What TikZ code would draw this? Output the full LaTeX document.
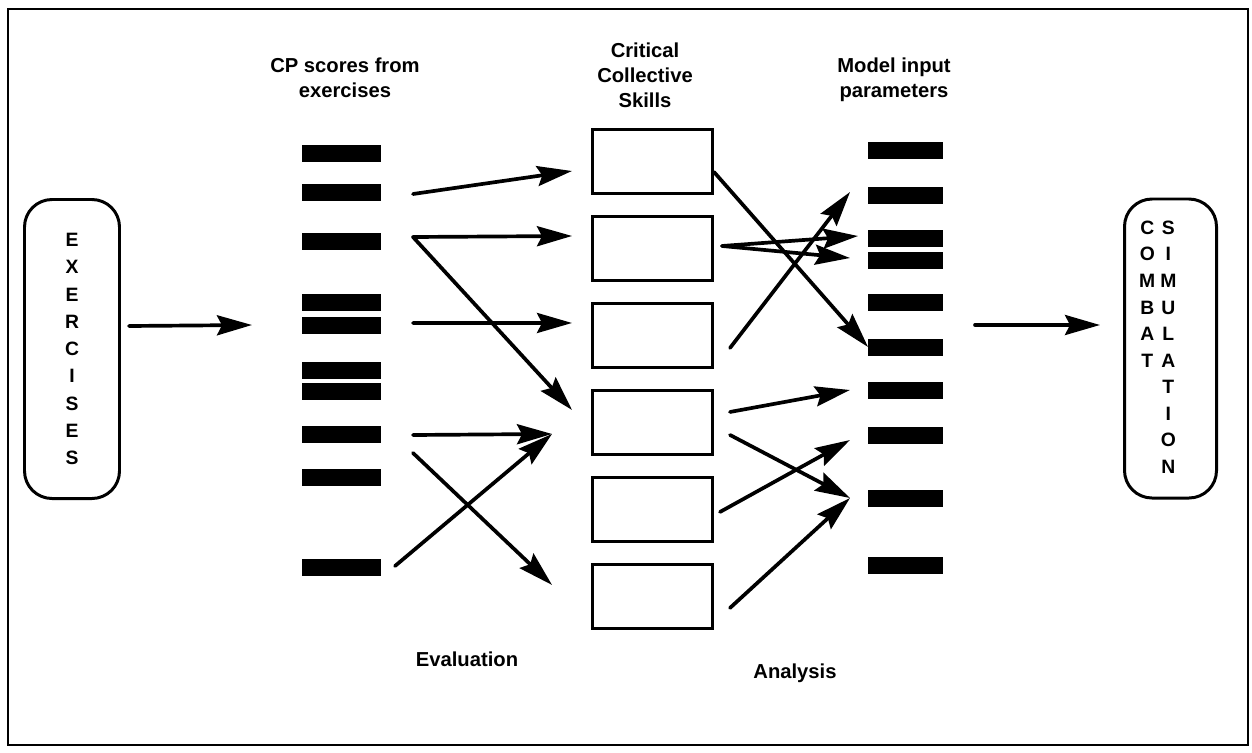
\documentclass[tikz,border=0pt]{standalone}
\usepackage{fontspec}
\setmainfont{Liberation Sans}
\usetikzlibrary{arrows.meta, positioning, calc}

\begin{document}
\begin{tikzpicture}[
        barra/.style={
            rectangle,
            fill=black,
            minimum width=#1,
            minimum height=0.34cm,
            inner sep=0pt,
            outer sep=0pt
        },
        habilidad/.style={
            rectangle,
            draw=black,
            line width=1.7pt,
            minimum width=2.40cm,
            minimum height=1.28cm,
            inner sep=0pt
        },
        extremo/.style={
            rectangle,
            rounded corners=0.55cm,
            draw=black,
            line width=1.7pt,
            minimum width=1.90cm,
            minimum height=5.98cm,
            align=center,
            inner sep=0pt
        },
        rotulo/.style={
            align=center,
            font=\fontsize{11.5}{14.3}\selectfont\bfseries,
            inner sep=0pt
        },
        flecha/.style={-{Stealth[length=7mm, width=4mm, inset=1mm]}, line width=2.1pt, line cap=round}
    ]
        \useasboundingbox (0,0) rectangle (25.04,-15.04);
        \draw[line width=1.2pt] (0.16,-0.18) rectangle (24.96,-14.90);

        \node[extremo, font=\fontsize{11}{15.5}\selectfont\bfseries] (ejercicios) at (1.44,-6.98) {
            E\\X\\E\\R\\C\\I\\S\\E\\S
        };

        \node[extremo, minimum width=1.84cm, font=\fontsize{11}{15.1}\selectfont\bfseries] (combate) at (23.41,-6.97) {
            \begin{tabular}{@{}c@{\hspace{0.10cm}}c@{\hspace{0.40cm}}}
                C&S\\ O&I\\ M&M\\ B&U\\ A&L\\ T&A\\ &T\\ &I\\ &O\\ &N
            \end{tabular}
        };

        \node[rotulo] (tcp) at (6.90,-1.56) {CP scores from\\exercises};
        \node[rotulo] (thab) at (12.90,-1.51) {Critical\\Collective\\Skills};
        \node[rotulo] (tpar) at (17.88,-1.60) {Model input\\parameters};
        \node[rotulo] (teval) at (9.34,-13.19) {Evaluation};
        \node[rotulo] (tanal) at (15.90,-13.46) {Analysis};

        \node[barra=1.58cm] (cp1) at (6.83,-3.06) {};
        \node[barra=1.58cm, below=0.44cm of cp1] (cp2) {};
        \node[barra=1.58cm, below=0.64cm of cp2] (cp3) {};
        \node[barra=1.58cm, below=0.88cm of cp3] (cp4) {};
        \node[barra=1.58cm, below=0.12cm of cp4] (cp5) {};
        \node[barra=1.58cm, below=0.56cm of cp5] (cp6) {};
        \node[barra=1.58cm, below=0.08cm of cp6] (cp7) {};
        \node[barra=1.58cm, below=0.52cm of cp7] (cp8) {};
        \node[barra=1.58cm, below=0.52cm of cp8] (cp9) {};
        \node[barra=1.58cm, below=1.46cm of cp9] (cp10) {};

        \node[habilidad] (hab1) at (13.05,-3.23) {};
        \node[habilidad, below=0.40cm of hab1] (hab2) {};
        \node[habilidad, below=0.40cm of hab2] (hab3) {};
        \node[habilidad, below=0.40cm of hab3] (hab4) {};
        \node[habilidad, below=0.40cm of hab4] (hab5) {};
        \node[habilidad, below=0.40cm of hab5] (hab6) {};

        \node[barra=1.50cm] (par1) at (18.11,-3.00) {};
        \node[barra=1.50cm, below=0.56cm of par1] (par2) {};
        \node[barra=1.50cm, below=0.52cm of par2] (par3) {};
        \node[barra=1.50cm, below=0.10cm of par3] (par4) {};
        \node[barra=1.50cm, below=0.50cm of par4] (par5) {};
        \node[barra=1.50cm, below=0.56cm of par5] (par6) {};
        \node[barra=1.50cm, below=0.52cm of par6] (par7) {};
        \node[barra=1.50cm, below=0.56cm of par7] (par8) {};
        \node[barra=1.50cm, below=0.92cm of par8] (par9) {};
        \node[barra=1.50cm, below=1.00cm of par9] (par10) {};

        \coordinate (salidaEj) at ([xshift=0.16cm, yshift=0.46cm]ejercicios.east);
        \coordinate (entradaCp) at ([xshift=-1.00cm]cp5.west);
        \coordinate (salidaPar) at ([xshift=0.64cm, yshift=-0.46cm]par5.east);
        \coordinate (entradaCb) at ([xshift=-0.46cm, yshift=0.47cm]combate.west);
        \draw[flecha] (salidaEj) -- (entradaCp);
        \draw[flecha] (salidaPar) -- (entradaCb);

        \coordinate (s1) at ([xshift=0.64cm, yshift=-0.04cm]cp2.east);
        \coordinate (s2) at ([xshift=0.64cm, yshift=0.08cm]cp3.east);
        \coordinate (s3) at ([xshift=0.64cm, yshift=0.04cm]cp5.east);
        \coordinate (s4) at ([xshift=0.64cm, yshift=-0.02cm]cp8.east);
        \coordinate (s5) at ([xshift=0.64cm, yshift=-0.38cm]cp8.east);
        \coordinate (s6) at ([xshift=0.28cm, yshift=0.02cm]cp10.east);
        \coordinate (t1) at ([xshift=-0.38cm, yshift=-0.19cm]hab1.west);
        \coordinate (t2) at ([xshift=-0.38cm, yshift=0.25cm]hab2.west);
        \coordinate (t3) at ([xshift=-0.38cm, yshift=0.25cm]hab4.west);
        \coordinate (t4) at ([xshift=-0.38cm, yshift=0.25cm]hab3.west);
        \coordinate (t5) at ([xshift=-0.78cm, yshift=-0.23cm]hab4.west);
        \coordinate (t6) at ([xshift=-0.78cm, yshift=0.23cm]hab6.west);
        \draw[flecha] (s1) -- (t1);
        \draw[flecha] (s2) -- (t2);
        \draw[flecha] (s2) -- (t3);
        \draw[flecha] (s3) -- (t4);
        \draw[flecha] (s4) -- (t5);
        \draw[flecha] (s6) -- (t5);
        \draw[flecha] (s5) -- (t6);

        \coordinate (r1) at ([yshift=-0.21cm]hab1.east);
        \coordinate (r2) at ([xshift=0.16cm, yshift=0.05cm]hab2.east);
        \coordinate (r3) at ([xshift=0.32cm, yshift=-0.25cm]hab3.east);
        \coordinate (r4) at ([xshift=0.32cm, yshift=0.21cm]hab4.east);
        \coordinate (r5) at ([xshift=0.32cm, yshift=-0.25cm]hab4.east);
        \coordinate (r6) at ([xshift=0.12cm, yshift=-0.05cm]hab5.east);
        \coordinate (r7) at ([xshift=0.32cm, yshift=-0.23cm]hab6.east);
        \coordinate (u1) at (par6.west);
        \coordinate (u2) at ([xshift=-0.20cm, yshift=0.04cm]par3.west);
        \coordinate (u3) at ([xshift=-0.36cm, yshift=0.04cm]par4.west);
        \coordinate (u4) at ([xshift=-0.36cm, yshift=0.06cm]par2.west);
        \coordinate (u5) at ([xshift=-0.36cm]par7.west);
        \coordinate (u6) at ([xshift=-0.36cm]par9.west);
        \coordinate (u7) at ([xshift=-0.36cm, yshift=-0.10cm]par8.west);
        \draw[flecha] (r1) -- (u1);
        \draw[flecha] (r2) -- (u2);
        \draw[flecha] (r2) -- (u3);
        \draw[flecha] (r3) -- (u4);
        \draw[flecha] (r4) -- (u5);
        \draw[flecha] (r5) -- (u6);
        \draw[flecha] (r6) -- (u7);
        \draw[flecha] (r7) -- (u6);
    \end{tikzpicture}
\end{document}
